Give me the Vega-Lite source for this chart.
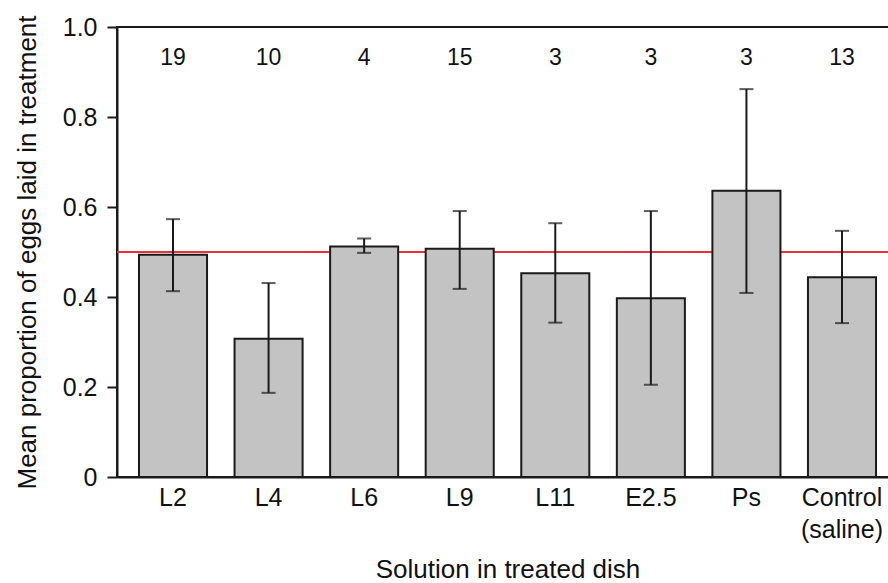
{
  "$schema": "https://vega.github.io/schema/vega-lite/v6.json",
  "autosize": "none",
  "width": 781,
  "height": 450,
  "padding": {"left": 117, "top": 27, "right": 0, "bottom": 106},
  "background": "white",
  "config": {
    "font": "Liberation Sans",
    "view": {"stroke": "#1a1a1a", "strokeWidth": 2},
    "axis": {"labelFont": "Liberation Sans", "titleFont": "Liberation Sans", "labelColor": "#111", "titleColor": "#111", "labelFontSize": 25, "titleFontSize": 26, "titleFontWeight": "normal", "domainColor": "#1a1a1a", "tickColor": "#1a1a1a", "domainWidth": 2, "tickWidth": 2, "grid": false}
  },
  "data": {
    "values": [
      {"solution": "L2", "mean": 0.494, "lower": 0.413, "upper": 0.573, "n": 19},
      {"solution": "L4", "mean": 0.307, "lower": 0.187, "upper": 0.431, "n": 10},
      {"solution": "L6", "mean": 0.512, "lower": 0.498, "upper": 0.530, "n": 4},
      {"solution": "L9", "mean": 0.507, "lower": 0.418, "upper": 0.591, "n": 15},
      {"solution": "L11", "mean": 0.453, "lower": 0.343, "upper": 0.564, "n": 3},
      {"solution": "E2.5", "mean": 0.397, "lower": 0.205, "upper": 0.591, "n": 3},
      {"solution": "Ps", "mean": 0.636, "lower": 0.409, "upper": 0.862, "n": 3},
      {"solution": "Control (saline)", "mean": 0.444, "lower": 0.342, "upper": 0.547, "n": 13}
    ]
  },
  "layer": [
    {
      "mark": {"type": "rule", "color": "#e8333c", "strokeWidth": 2},
      "encoding": {"y": {"datum": 0.5, "type": "quantitative", "scale": {"domain": [0, 1], "nice": false}}}
    },
    {
      "mark": {"type": "bar", "fill": "#c3c3c3", "stroke": "#1a1a1a", "strokeWidth": 2},
      "encoding": {
        "x": {
          "field": "solution",
          "type": "nominal",
          "sort": null,
          "scale": {"paddingInner": 0.288, "paddingOuter": 0.23},
          "axis": {
            "title": "Solution in treated dish",
            "labelAngle": 0,
            "ticks": false,
            "labelPadding": 8,
            "titlePadding": 14,
            "labelExpr": "datum.value == 'Control (saline)' ? ['Control', '(saline)'] : datum.value",
            "labelLineHeight": 32
          }
        },
        "y": {
          "field": "mean",
          "type": "quantitative",
          "scale": {"domain": [0, 1], "nice": false},
          "axis": {
            "title": "Mean proportion of eggs laid in treatment",
            "values": [0, 0.2, 0.4, 0.6, 0.8, 1.0],
            "labelExpr": "datum.value == 0 ? '0' : format(datum.value, '.1f')",
            "tickSize": 10,
            "labelPadding": 10,
            "titlePadding": 22
          }
        }
      }
    },
    {
      "mark": {"type": "rule", "color": "#1a1a1a", "strokeWidth": 2},
      "encoding": {
        "x": {"field": "solution", "type": "nominal", "sort": null},
        "y": {"field": "lower", "type": "quantitative"},
        "y2": {"field": "upper"}
      }
    },
    {
      "mark": {"type": "tick", "color": "#1a1a1a", "size": 14, "thickness": 2, "orient": "horizontal"},
      "encoding": {
        "x": {"field": "solution", "type": "nominal", "sort": null},
        "y": {"field": "lower", "type": "quantitative"}
      }
    },
    {
      "mark": {"type": "tick", "color": "#1a1a1a", "size": 14, "thickness": 2, "orient": "horizontal"},
      "encoding": {
        "x": {"field": "solution", "type": "nominal", "sort": null},
        "y": {"field": "upper", "type": "quantitative"}
      }
    },
    {
      "mark": {"type": "text", "fontSize": 23, "color": "#111", "baseline": "middle"},
      "encoding": {
        "x": {"field": "solution", "type": "nominal", "sort": null},
        "y": {"datum": 0.931},
        "text": {"field": "n", "type": "quantitative"}
      }
    }
  ]
}
